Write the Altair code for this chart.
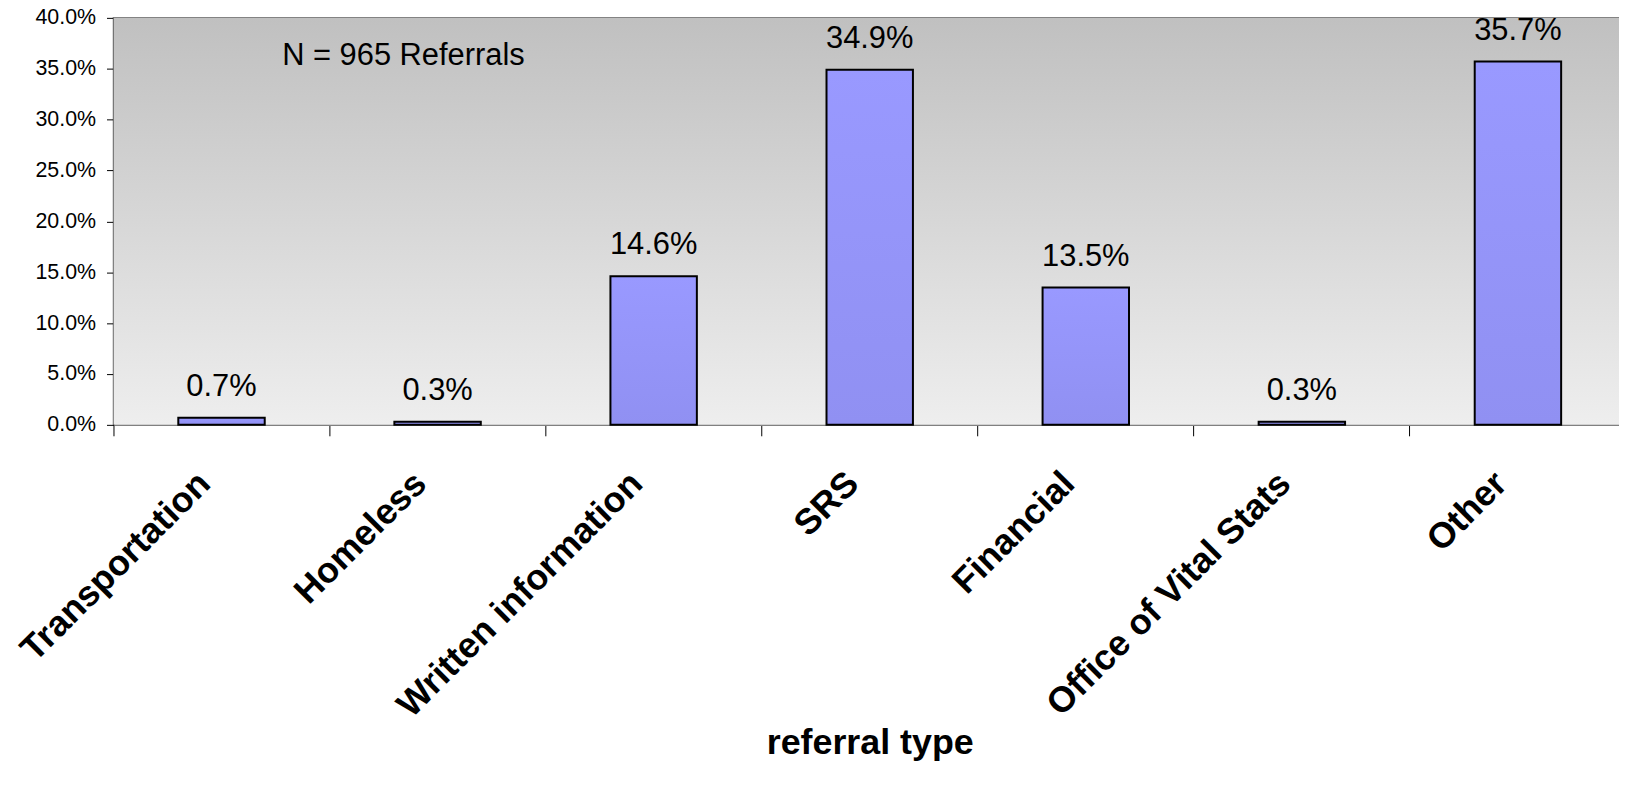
import altair as alt
import pandas as pd

categories = ["Transportation", "Homeless", "Written information", "SRS",
              "Financial", "Office of Vital Stats", "Other"]
shares = [0.007, 0.003, 0.146, 0.349, 0.135, 0.003, 0.357]
y_ticks = [0.0, 0.05, 0.10, 0.15, 0.20, 0.25, 0.30, 0.35, 0.40]
note_text = ["N = 965 Referrals"]
x_title = "referral type"

FONT = "Liberation Sans"

df = pd.DataFrame({"type": categories, "share": shares})
note_df = pd.DataFrame({"note": note_text})
panel_df = pd.DataFrame({"top": [0.4], "bottom": [0.0]})

xscale = alt.Scale(domain=categories, range=[0, 1520], paddingInner=0, paddingOuter=0)
yscale = alt.Scale(domain=[0, 0.4], nice=False)

x_axis = alt.Axis(
    title=x_title, bandPosition=0, labelAngle=-45, labelAlign="right",
    labelBaseline="middle", labelOffset=-17, labelPadding=42, tickSize=11,
    tickColor="black", tickWidth=1, labelFont=FONT, labelFontSize=36,
    labelFontWeight="bold", labelColor="black", domainColor="#808080",
    domainWidth=1.5, titleFont=FONT, titleFontSize=36, titleFontWeight="bold",
    titleColor="black", titleY=330, titleBaseline="alphabetic", grid=False,
    labelOverlap=False, labelBound=False, labelFlush=False, labelLimit=0,
)
y_axis = alt.Axis(
    title=None, values=y_ticks, format=".1%", tickSize=7, tickColor="black",
    labelPadding=11, labelFont=FONT, labelFontSize=21.5, labelColor="black",
    domainColor="black", domainWidth=1.5, grid=True, gridColor="black",
    gridWidth=1, gridOpacity=1,
)

bar_fill = alt.Gradient(
    gradient="linear", x1=0, y1=0, x2=0, y2=1,
    stops=[alt.GradientStop(offset=0, color="#9999ff"),
           alt.GradientStop(offset=1, color="#9090f2")],
)
bg_fill = alt.Gradient(
    gradient="linear", x1=0, y1=0, x2=0, y2=1,
    stops=[alt.GradientStop(offset=0, color="#c0c0c0"),
           alt.GradientStop(offset=1, color="#eeeeee")],
)

panel = alt.Chart(panel_df).mark_rect(fill=bg_fill, strokeWidth=0).encode(
    x=alt.value(0),
    x2=alt.value({"expr": "width"}),
    y=alt.Y("top:Q", scale=yscale, axis=y_axis),
    y2="bottom:Q",
)

bars = alt.Chart(df).mark_bar(
    width=alt.RelativeBandSize(0.4), fill=bar_fill, stroke="black", strokeWidth=2
).encode(
    x=alt.X("type:N", sort=categories, scale=xscale, axis=x_axis),
    y=alt.Y("share:Q", scale=yscale, axis=y_axis),
)

labels = alt.Chart(df).mark_text(
    baseline="alphabetic", dy=-22, font=FONT, fontSize=31, color="black"
).encode(
    x=alt.X("type:N", sort=categories, scale=xscale, axis=x_axis),
    y=alt.Y("share:Q", scale=yscale, axis=y_axis),
    text=alt.Text("share:Q", format=".1%"),
)

note = alt.Chart(note_df).mark_text(
    align="left", baseline="alphabetic", dx=61, dy=-4, font=FONT, fontSize=31,
    color="black"
).encode(
    x=alt.datum("Transportation", scale=xscale),
    y=alt.datum(0.35),
    text="note:N",
)

chart = alt.layer(panel, bars, labels, note).properties(
    width=1513, height=409,
    autosize=alt.AutoSizeParams(type="none"),
    padding={"left": 106, "top": 8, "right": 0, "bottom": 355},
    background="white",
).configure_view(
    stroke="#808080", strokeWidth=1.5,
)

chart.save("out.html", embed_options={"renderer": "svg", "actions": False})
